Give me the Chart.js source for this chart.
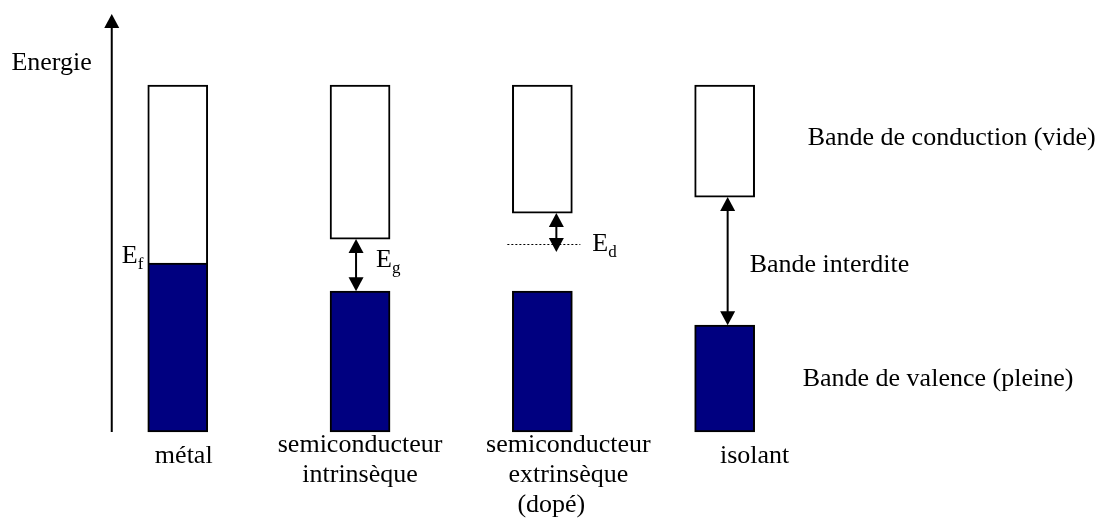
<!DOCTYPE html>
<html>
<head>
<meta charset="utf-8">
<script src="https://cdn.jsdelivr.net/npm/chart.js@4"></script>
<style>
  html, body { margin: 0; padding: 0; background: #fff; }
  #wrap { width: 1107px; height: 522px; }
</style>
</head>
<body>
<div id="wrap"><canvas id="chart" width="1107" height="522"></canvas></div>
<script>
// matériaux
const materials = ['métal', 'semiconducteur intrinsèque', 'semiconducteur extrinsèque', 'isolant'];
const bottomLabels = [['métal'], ['semiconducteur', 'intrinsèque'], ['semiconducteur', 'extrinsèque', '(dopé)'], ['isolant']];

// énergies (unités arbitraires, 0 = bas des bandes)
const valenceBottom = [0, 0, 0, 0];
const valenceTop = [4.87, 4.06, 4.06, 3.08];
const conductionBottom = [4.87, 5.56, 6.31, 6.77];
const conductionTop = [10, 10, 10, 10];
const donorLevel = [null, null, 5.42, null];
const axisTop = 12.05;

// textes
const axisTitle = 'Energie';
const levelLabels = [['E', 'f'], ['E', 'g'], ['E', 'd'], null];
const sideLabels = ['Bande de conduction (vide)', 'Bande interdite', 'Bande de valence (pleine)'];

const serif = '"Liberation Serif", "Times New Roman", serif';

function arrowHead(ctx, x, yTip, dir) {
    // dir = -1 : pointe vers le haut, 1 : vers le bas
    ctx.beginPath();
    ctx.moveTo(x, yTip);
    ctx.lineTo(x - 7.5, yTip - dir * 14);
    ctx.lineTo(x + 7.5, yTip - dir * 14);
    ctx.closePath();
    ctx.fill();
}

function doubleArrow(ctx, x, yTop, yBot) {
    ctx.lineWidth = 2;
    ctx.beginPath();
    ctx.moveTo(x, yTop + 10);
    ctx.lineTo(x, yBot - 10);
    ctx.stroke();
    arrowHead(ctx, x, yTop, -1);
    arrowHead(ctx, x, yBot, 1);
}

function subLabel(ctx, parts, x, yBase) {
    ctx.textAlign = 'left';
    ctx.font = '26px ' + serif;
    ctx.fillText(parts[0], x, yBase);
    const w = ctx.measureText(parts[0]).width;
    ctx.font = '17px ' + serif;
    ctx.fillText(parts[1], x + w, yBase + 6);
}

const bandPlugin = {
    id: 'bandPlugin',
    afterDraw(chart) {
        const { ctx, scales: { x, y } } = chart;
        ctx.save();
        ctx.fillStyle = '#000';
        ctx.strokeStyle = '#000';
        ctx.textBaseline = 'alphabetic';

        // axe des énergies
        const ax = x.getPixelForValue(0) - 66;
        const yZero = y.getPixelForValue(0);
        const yTip = y.getPixelForValue(axisTop);
        ctx.lineWidth = 2;
        ctx.beginPath();
        ctx.moveTo(ax, yZero);
        ctx.lineTo(ax, yTip + 10);
        ctx.stroke();
        arrowHead(ctx, ax, yTip, -1);

        ctx.font = '26px ' + serif;
        ctx.textAlign = 'right';
        ctx.fillText(axisTitle, ax - 20, y.getPixelForValue(conductionTop[0]) - 15);

        // flèches des gaps
        const arrowDx = [0, -4, 14, 3];
        for (let i = 1; i < materials.length; i++) {
            const cx = x.getPixelForValue(i) + arrowDx[i];
            const top = y.getPixelForValue(conductionBottom[i]);
            const bot = donorLevel[i] !== null
                ? y.getPixelForValue(donorLevel[i]) + 8
                : y.getPixelForValue(valenceTop[i]);
            doubleArrow(ctx, cx, top, bot);
        }

        // niveau donneur (pointillé)
        donorLevel.forEach((lvl, i) => {
            if (lvl === null) return;
            const cx = x.getPixelForValue(i);
            const py = Math.round(y.getPixelForValue(lvl)) + 0.5;
            ctx.save();
            ctx.lineWidth = 1;
            ctx.setLineDash([2, 2]);
            ctx.beginPath();
            ctx.moveTo(cx - 35, py);
            ctx.lineTo(cx + 38, py);
            ctx.stroke();
            ctx.restore();
        });

        // E_f, E_g, E_d
        const c0 = x.getPixelForValue(0);
        subLabel(ctx, levelLabels[0], c0 - 56, y.getPixelForValue(valenceTop[0]));
        const c1 = x.getPixelForValue(1);
        const mid1 = (y.getPixelForValue(conductionBottom[1]) + y.getPixelForValue(valenceTop[1])) / 2;
        subLabel(ctx, levelLabels[1], c1 + 16, mid1 + 2);
        const c2 = x.getPixelForValue(2);
        subLabel(ctx, levelLabels[2], c2 + 50, y.getPixelForValue(donorLevel[2]) + 7);

        // légendes à droite (isolant)
        const c3 = x.getPixelForValue(3);
        ctx.font = '26px ' + serif;
        ctx.textAlign = 'left';
        const yc = (y.getPixelForValue(conductionTop[3]) + y.getPixelForValue(conductionBottom[3])) / 2;
        ctx.fillText(sideLabels[0], c3 + 83, yc + 4);
        const yg = (y.getPixelForValue(conductionBottom[3]) + y.getPixelForValue(valenceTop[3])) / 2;
        ctx.fillText(sideLabels[1], c3 + 25, yg + 11);
        const yv = (y.getPixelForValue(valenceTop[3]) + y.getPixelForValue(valenceBottom[3])) / 2;
        ctx.fillText(sideLabels[2], c3 + 78, yv + 7);

        // noms des matériaux
        const labelDx = [6, 0, 26, 30];
        ctx.textAlign = 'center';
        bottomLabels.forEach((lines, i) => {
            const cx = x.getPixelForValue(i) + labelDx[i];
            const y0 = yZero + (lines.length > 1 ? 20 : 31);
            lines.forEach((t, k) => {
                let dx = 0;
                if (k === 2) dx = -17;
                ctx.fillText(t, cx + dx, y0 + k * 30);
            });
        });

        ctx.restore();
    }
};

const valenceData = materials.map((m, i) => [valenceBottom[i], valenceTop[i]]);
const conductionData = materials.map((m, i) => [conductionBottom[i], conductionTop[i]]);

new Chart(document.getElementById('chart'), {
    type: 'bar',
    data: {
        labels: materials,
        datasets: [
            {
                label: sideLabels[2],
                data: valenceData,
                backgroundColor: '#000080',
                borderColor: '#000',
                borderWidth: 2,
                borderSkipped: false,
                grouped: false,
                barThickness: 60
            },
            {
                label: sideLabels[0],
                data: conductionData,
                backgroundColor: '#fff',
                borderColor: '#000',
                borderWidth: 2,
                borderSkipped: ctx => ctx.dataIndex === 0 ? 'bottom' : false,
                grouped: false,
                barThickness: 60
            }
        ]
    },
    options: {
        responsive: false,
        animation: false,
        layout: { padding: { left: 86.6, right: 291.2, top: 0, bottom: 0 } },
        plugins: {
            legend: { display: false },
            tooltip: { enabled: false }
        },
        scales: {
            x: { display: false, offset: true },
            y: { display: false, min: -2.593, max: 12.45 }
        }
    },
    plugins: [bandPlugin]
});
</script>
</body>
</html>
